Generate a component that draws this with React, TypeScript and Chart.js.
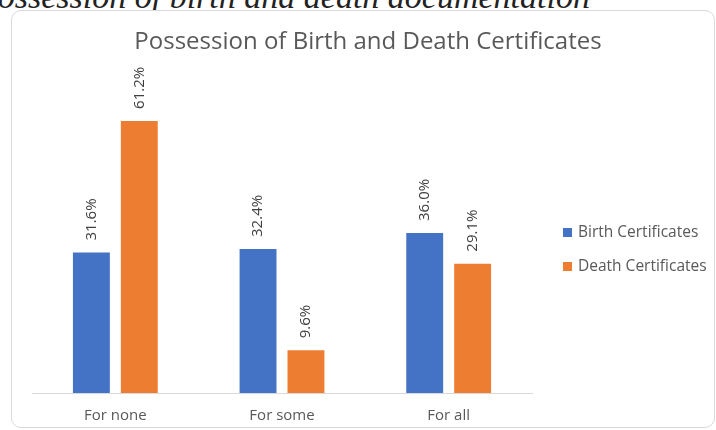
import { useEffect, useRef } from "react";
import { Chart, registerables } from "chart.js";

Chart.register(...registerables);

// Share of households holding certificates, by coverage of members
const categories = ["For none", "For some", "For all"];
const seriesNames = ["Birth Certificates", "Death Certificates"];
const birthCertificates = [31.6, 32.4, 36.0];
const deathCertificates = [61.2, 9.6, 29.1];

const BLUE = "#4472C4";
const ORANGE = "#ED7D31";
const TEXT = "#595959";
const FONT = "'Open Sans', 'Noto Sans', sans-serif";

// Rotated percentage labels above each bar
const valueLabels = {
  id: "valueLabels",
  afterDatasetsDraw(chart: any) {
    const ctx = chart.ctx as CanvasRenderingContext2D;
    ctx.save();
    ctx.fillStyle = "#404040";
    ctx.font = `15px ${FONT}`;
    ctx.textAlign = "left";
    ctx.textBaseline = "middle";
    chart.data.datasets.forEach((ds: any, i: number) => {
      const meta = chart.getDatasetMeta(i);
      meta.data.forEach((bar: any, j: number) => {
        const v = ds.data[j] as number;
        ctx.save();
        ctx.translate(bar.x, bar.y - 12);
        ctx.rotate(-Math.PI / 2);
        ctx.fillText(v.toFixed(1) + "%", 0, 0);
        ctx.restore();
      });
    });
    ctx.restore();
  },
};

// Legend drawn to the right of the plot area
const sideLegend = {
  id: "sideLegend",
  afterDraw(chart: any) {
    const ctx = chart.ctx as CanvasRenderingContext2D;
    const area = chart.chartArea;
    const x0 = area.right + 31;
    const y0 = (area.top + area.bottom) / 2 - 4.5;
    const step = 34;
    ctx.save();
    ctx.font = `15.5px ${FONT}`;
    ctx.textAlign = "left";
    ctx.textBaseline = "middle";
    chart.data.datasets.forEach((ds: any, i: number) => {
      const y = y0 + i * step;
      ctx.fillStyle = ds.backgroundColor;
      ctx.fillRect(x0, Math.round(y - 4.5), 9, 9);
      ctx.fillStyle = TEXT;
      ctx.fillText(ds.label, x0 + 15, y);
    });
    ctx.restore();
  },
};

function CertificatesChart() {
  const canvasRef = useRef<HTMLCanvasElement | null>(null);

  useEffect(() => {
    if (!canvasRef.current) return;
    const chart = new Chart(canvasRef.current, {
      type: "bar",
      data: {
        labels: categories,
        datasets: [
          {
            label: seriesNames[0],
            data: birthCertificates,
            backgroundColor: BLUE,
            categoryPercentage: 0.575,
            barPercentage: 0.77,
          },
          {
            label: seriesNames[1],
            data: deathCertificates,
            backgroundColor: ORANGE,
            categoryPercentage: 0.575,
            barPercentage: 0.77,
          },
        ],
      },
      options: {
        responsive: false,
        animation: false,
        layout: { padding: { left: 10, right: 0, top: 0, bottom: 0 } },
        plugins: {
          legend: { display: false },
          tooltip: { enabled: false },
          title: {
            display: true,
            text: "Possession of Birth and Death Certificates",
            color: TEXT,
            font: { family: FONT, size: 24, weight: "normal" },
            padding: { top: 17, bottom: 25 },
          },
        },
        scales: {
          x: {
            grid: { display: false, drawTicks: false },
            border: { display: true, color: "#d9d9d9", width: 1 },
            ticks: { color: TEXT, font: { family: FONT, size: 15 }, padding: 14 },
            afterFit(scale: any) {
              scale.height = 34;
            },
          },
          y: {
            display: true,
            min: 0,
            max: 70,
            grid: { display: false },
            border: { display: false },
            ticks: { display: false },
            afterFit(scale: any) {
              scale.width = 10;
            },
          },
          // empty right-hand gutter that holds the legend
          gutter: {
            type: "linear",
            position: "right",
            display: true,
            grid: { display: false },
            border: { display: false },
            ticks: { display: false },
            afterFit(scale: any) {
              scale.width = 182;
            },
          },
        },
      },
      plugins: [valueLabels, sideLegend],
    });
    return () => chart.destroy();
  }, []);

  return <canvas ref={canvasRef} width={702} height={416} style={{ display: "block" }} />;
}

export default function App() {
  return (
    <div
      style={{
        position: "absolute",
        left: 0,
        top: 0,
        width: 716,
        height: 430,
        overflow: "hidden",
        background: "#ffffff",
      }}
    >
      <div
        style={{
          position: "absolute",
          left: -23,
          top: -20.5,
          whiteSpace: "nowrap",
          fontFamily: "'Liberation Serif', serif",
          fontStyle: "italic",
          fontSize: 34,
          lineHeight: "34px",
          color: "#222222",
        }}
      >
        Possession of birth and death documentation
      </div>
      <div
        style={{
          position: "absolute",
          left: 11,
          top: 10,
          width: 704,
          height: 418,
          boxSizing: "border-box",
          border: "1px solid #d9d9d9",
          borderRadius: 10,
          background: "#ffffff",
        }}
      >
        <CertificatesChart />
      </div>
    </div>
  );
}
